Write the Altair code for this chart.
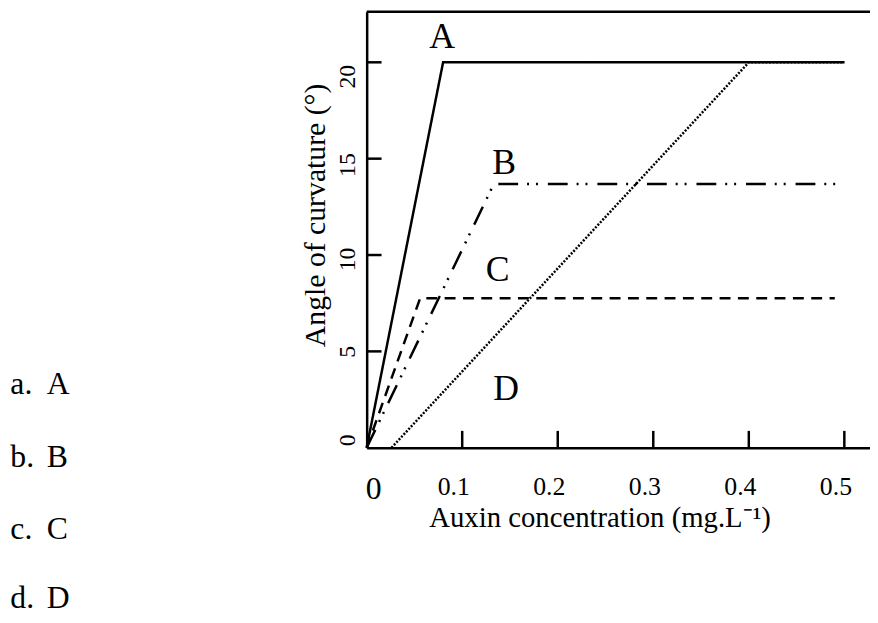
import altair as alt
import pandas as pd

FONT = "Liberation Serif"

# ---- data ----
series_names = ["A", "B", "C", "D"]
a_x = [0.0, 0.08, 0.5]
a_y = [0.0, 20.0, 20.0]
b_x = [0.0, 0.133, 0.495]
b_y = [0.0, 13.68, 13.68]
c_x = [0.0, 0.056, 0.49]
c_y = [0.0, 7.76, 7.76]
d_x = [0.026, 0.40, 0.5]
d_y = [0.0, 20.0, 20.0]

x_tick_values = [0.1, 0.2, 0.3, 0.4, 0.5]
y_tick_values = [0, 5, 10, 15, 20]
y_inner_ticks = [5, 10, 15, 20]

option_letters = ["a.", "b.", "c.", "d."]
option_names = ["A", "B", "C", "D"]

x_title = "Auxin concentration (mg.L\u207b\u00b9)"
y_title = "Angle of curvature (\u00b0)"

# ---- annotation placement (data units) ----
curve_label_x = [0.079, 0.144, 0.137, 0.146]
curve_label_y = [20.72, 14.19, 8.64, 2.47]
option_y = [2.78, -0.98, -4.73, -8.33]
option_x_letter = -0.373
option_x_name = -0.335

W, H = 508, 440
X_MAX = W / 964.2
Y_MAX = H / 19.45

rows = []
for name, xs_, ys_ in zip(series_names, [a_x, b_x, c_x, d_x], [a_y, b_y, c_y, d_y]):
    for i, (xv, yv) in enumerate(zip(xs_, ys_)):
        rows.append({"series": name, "x": xv, "y": yv, "order": i})
lines_df = pd.DataFrame(rows)

xs = alt.Scale(domain=[0, X_MAX], nice=False, zero=False)
ys = alt.Scale(domain=[0, Y_MAX], nice=False, zero=False)

dash_range = [[1, 0], [20, 9, 2, 7, 2, 10], [11, 7.5], [2, 1.6]]

lines = alt.Chart(lines_df).mark_line(color="black", strokeWidth=2.5, clip=False).encode(
    x=alt.X("x:Q", scale=xs, axis=alt.Axis(
        values=x_tick_values, labelExpr="format(datum.value, '.1f')",
        labelFont=FONT, labelFontSize=26, labelColor="black",
        labelBaseline="alphabetic", labelPadding=47, labelOffset=-9,
        labelFlush=False, labelOverlap=False,
        ticks=False, grid=False, domainColor="black", domainWidth=2.5,
        title=x_title, titleFont=FONT, titleFontSize=29, titleFontWeight="normal",
        titleColor="black", titleBaseline="alphabetic", titleX=235, titleY=79,
        titleAlign="center")),
    y=alt.Y("y:Q", scale=ys, axis=alt.Axis(
        values=y_tick_values, labelAngle=-90, labelAlign="center",
        labelBaseline="alphabetic", labelPadding=12,
        labelFont=FONT, labelFontSize=24, labelColor="black",
        labelOffset={"condition": [
            {"test": "datum.value === 0", "value": -8},
            {"test": "datum.value === 10", "value": 4},
            {"test": "datum.value === 15", "value": 6},
            {"test": "datum.value === 20", "value": 14}], "value": 0},
        labelFlush=False, labelOverlap=False,
        ticks=False, grid=False, domainColor="black", domainWidth=2.5,
        title=y_title, titleFont=FONT, titleFontSize=30, titleFontWeight="normal",
        titleColor="black", titleAngle=-90, titleBaseline="alphabetic",
        titleAlign="center", titleX=-43, titleY=205)),
    strokeDash=alt.StrokeDash("series:N", scale=alt.Scale(domain=series_names, range=dash_range), legend=None),
    detail="series:N",
    order="order:Q",
)

xt_df = pd.DataFrame({"x": x_tick_values})
x_ticks = alt.Chart(xt_df).mark_rule(color="black", strokeWidth=2.5).encode(
    x=alt.X("x:Q", scale=xs), y=alt.value(H), y2=alt.value(H - 17))

yt_df = pd.DataFrame({"y": y_inner_ticks})
y_ticks = alt.Chart(yt_df).mark_rule(color="black", strokeWidth=2.5).encode(
    y=alt.Y("y:Q", scale=ys), x=alt.value(0), x2=alt.value(15))

top_border = alt.Chart(pd.DataFrame({"k": [1]})).mark_rule(color="black", strokeWidth=2.5).encode(
    x=alt.value(0), x2=alt.value(W), y=alt.value(0))

zero_df = pd.DataFrame({"x": [0.0], "y": [-2.67], "t": ["0"]})
zero_label = alt.Chart(zero_df).mark_text(font=FONT, fontSize=32, color="black",
                                          align="center", baseline="alphabetic", dx=7, clip=False).encode(
    x=alt.X("x:Q", scale=xs), y=alt.Y("y:Q", scale=ys), text="t:N")

cl_df = pd.DataFrame({"x": curve_label_x, "y": curve_label_y, "t": series_names})
curve_labels = alt.Chart(cl_df).mark_text(font=FONT, fontSize=36, color="black",
                                          align="center", baseline="alphabetic").encode(
    x=alt.X("x:Q", scale=xs), y=alt.Y("y:Q", scale=ys), text="t:N")

op_df = pd.DataFrame({"xl": [option_x_letter] * 4, "xn": [option_x_name] * 4,
                      "y": option_y, "l": option_letters, "n": option_names})
opt_letters = alt.Chart(op_df).mark_text(font=FONT, fontSize=32, color="black",
                                         align="left", baseline="alphabetic", clip=False).encode(
    x=alt.X("xl:Q", scale=xs), y=alt.Y("y:Q", scale=ys), text="l:N")
opt_names = alt.Chart(op_df).mark_text(font=FONT, fontSize=32, color="black",
                                       align="left", baseline="alphabetic", clip=False).encode(
    x=alt.X("xn:Q", scale=xs), y=alt.Y("y:Q", scale=ys), text="n:N")

chart = alt.layer(lines, x_ticks, y_ticks, top_border, zero_label, curve_labels,
                  opt_letters, opt_names).properties(
    width=W, height=H,
    padding={"left": 362, "top": 1, "right": 0, "bottom": 166},
    autosize=alt.AutoSizeParams(type="none"),
    background="white",
).configure_view(stroke=None)

chart.save("out.html", embed_options={"renderer": "svg", "actions": False})
